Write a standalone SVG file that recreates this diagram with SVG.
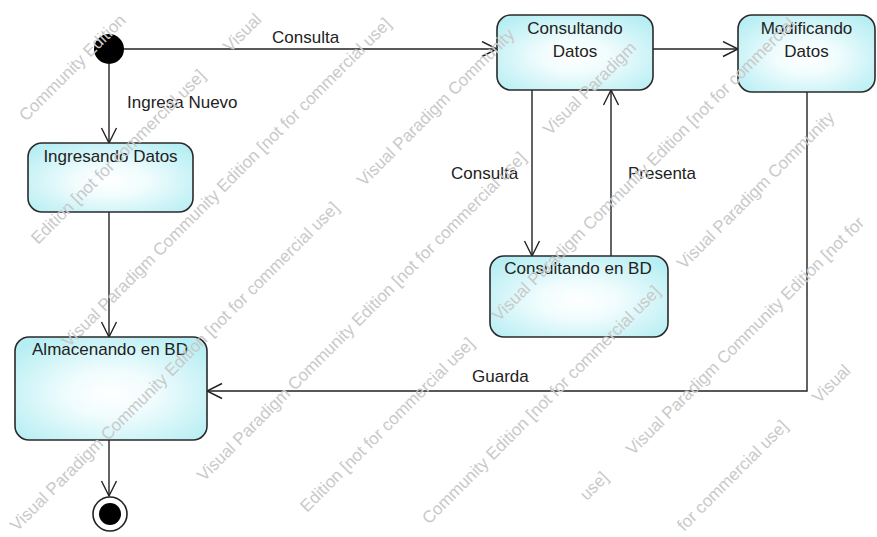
<svg xmlns="http://www.w3.org/2000/svg" width="877" height="537" viewBox="0 0 877 537">
<style>
.node rect{fill:url(#nodeFill);stroke:#2a2a2a;stroke-width:1.6}
.lbl{font-family:"Liberation Sans",Arial,sans-serif;font-size:17px;fill:#222}
.ctr{text-anchor:middle}
.edge{fill:none;stroke:#222;stroke-width:1.4;marker-end:url(#open)}
.wm{font-family:"Liberation Sans",Arial,sans-serif;font-size:17px;fill:#c9c9c9}
</style>
<defs>
<radialGradient id="nodeFill" cx="50%" cy="55%" r="65%">
<stop offset="0" stop-color="#ffffff"/>
<stop offset="0.35" stop-color="#f0fcfd"/>
<stop offset="1" stop-color="#b6eef3"/>
</radialGradient>
<marker id="open" markerUnits="userSpaceOnUse" markerWidth="18" markerHeight="18" viewBox="0 0 18 18" refX="16" refY="8.5" orient="auto">
<path d="M1,1 L16,8.5 L1,16" fill="none" stroke="#222" stroke-width="1.4"/>
</marker>
</defs>
<rect width="877" height="537" fill="#fff"/>

<g id="connectors">
<path class="edge" d="M124,49 H497"/>
<path class="edge" d="M109,64 V143"/>
<path class="edge" d="M109,212 V337"/>
<path class="edge" d="M109,440 V496"/>
<path class="edge" d="M653,49 H738"/>
<path class="edge" d="M532,90 V256"/>
<path class="edge" d="M611,256 V90"/>
<path class="edge" d="M807,92 V391 H207"/>
<text class="lbl" x="272" y="43">Consulta</text>
<text class="lbl" x="127" y="108">Ingresa Nuevo</text>
<text class="lbl" x="451" y="179">Consulta</text>
<text class="lbl" x="628" y="179">Presenta</text>
<text class="lbl" x="472" y="382">Guarda</text>
</g>

<g id="initial"><circle cx="109" cy="49" r="15" fill="#000"/></g>

<g id="final" class="node">
<circle cx="110" cy="514" r="17" fill="#fff" stroke="#222" stroke-width="1.6"/>
<circle cx="110" cy="514" r="11" fill="#000"/>
</g>

<g id="ingresando" class="node">
<rect x="28" y="143" width="165" height="69" rx="14"/>
<text class="lbl ctr" x="110.5" y="162">Ingresando Datos</text>
</g>

<g id="almacenando" class="node">
<rect x="15" y="337" width="192" height="103" rx="14"/>
<text class="lbl ctr" x="110" y="355">Almacenando en BD</text>
</g>

<g id="consultandoDatos" class="node">
<rect x="497" y="15" width="156" height="75" rx="14"/>
<text class="lbl ctr" x="575" y="34">Consultando</text>
<text class="lbl ctr" x="575" y="57">Datos</text>
</g>

<g id="modificando" class="node">
<rect x="738" y="15" width="137" height="77" rx="14"/>
<text class="lbl ctr" x="806.5" y="34">Modificando</text>
<text class="lbl ctr" x="806.5" y="57">Datos</text>
</g>

<g id="consultandoBD" class="node">
<rect x="490" y="256" width="178" height="81" rx="14"/>
<text class="lbl ctr" x="578" y="274">Consultando en BD</text>
</g>

<g id="watermark">
<text class="wm" x="38" y="245" transform="rotate(-45 38 245)">Edition [not for commercial use]</text>
<text class="wm" x="230" y="53" transform="rotate(-45 230 53)">Visual</text>
<text class="wm" x="17" y="532" transform="rotate(-45 17 532)">Visual Paradigm Community Edition [not for commercial use]</text>
<text class="wm" x="364" y="187" transform="rotate(-45 364 187)">Visual Paradigm Community</text>
<text class="wm" x="307" y="513" transform="rotate(-45 307 513)">Edition [not for commercial use]</text>
<text class="wm" x="499" y="322" transform="rotate(-45 499 322)">Visual Paradigm Community Edition [not for commercial</text>
<text class="wm" x="586.7" y="501.3" transform="rotate(-45 586.7 501.3)">use]</text>
<text class="wm" x="633" y="456" transform="rotate(-45 633 456)">Visual Paradigm Community Edition [not for</text>
<text class="wm" x="25.9" y="122.1" transform="rotate(-45 25.9 122.1)">Community Edition</text>
<text class="wm" x="69" y="348" transform="rotate(-45 69 348)">Visual Paradigm Community Edition [not for commercial use]</text>
<text class="wm" x="204" y="482" transform="rotate(-45 204 482)">Visual Paradigm Community Edition [not for commercial use]</text>
<text class="wm" x="550" y="136" transform="rotate(-45 550 136)">Visual Paradigm</text>
<text class="wm" x="428.9" y="525.1" transform="rotate(-45 428.9 525.1)">Community Edition [not for commercial use]</text>
<text class="wm" x="684" y="270" transform="rotate(-45 684 270)">Visual Paradigm Community</text>
<text class="wm" x="684" y="532" transform="rotate(-45 684 532)">for commercial use]</text>
<text class="wm" x="819" y="404" transform="rotate(-45 819 404)">Visual</text>
</g>
</svg>
